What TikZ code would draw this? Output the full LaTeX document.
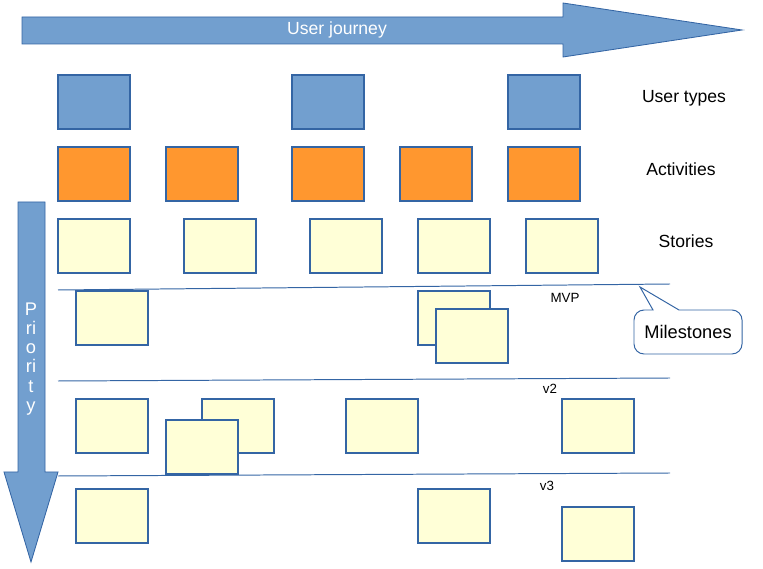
\documentclass[tikz,border=0pt]{standalone}
\usepackage{fontspec}
\setmainfont{Liberation Sans}
\usepackage{xcolor}
\usepackage{tikz}
\usetikzlibrary{positioning, arrows.meta}

\definecolor{bluefill}{HTML}{729FCF}
\definecolor{blueedge}{HTML}{3465A4}
\definecolor{orangefill}{HTML}{FF972F}
\definecolor{storyfill}{HTML}{FFFFD7}

\begin{document}
\begin{tikzpicture}[
    x=0.025cm, y=-0.025cm,
    card/.style={draw=blueedge, line width=0.8pt, inner sep=0pt,
        minimum width=1.8cm, minimum height=1.35cm},
    usertype/.style={card, fill=bluefill},
    activity/.style={card, fill=orangefill},
    story/.style={card, fill=storyfill},
    bigarrow/.style={fill=bluefill, draw=blueedge, line width=0.6pt},
    milestone/.style={blueedge, line width=0.7pt},
    rowlabel/.style={font=\fontsize{12.5}{14}\selectfont},
    mslabel/.style={font=\fontsize{9.5}{11}\selectfont},
    callout/.style={draw=blueedge, fill=white, line width=0.7pt}
]
\useasboundingbox (0,0) rectangle (763,569);

% ---------- user journey arrow ----------
\draw[bigarrow] (22,17) -- (563,17) -- (563,3) -- (742,30) -- (563,57)
    -- (563,44) -- (22,44) -- cycle;
\node[white, font=\fontsize{12.5}{14}\selectfont] (journey) at (337,30) {User journey};

% ---------- priority arrow ----------
\draw[bigarrow] (18,202) -- (45,202) -- (45,472) -- (58,472) -- (31,562)
    -- (4,472) -- (18,472) -- cycle;
\node[white, align=center, font=\fontsize{13}{13.6}\selectfont] (priority) at (31,359)
    {P\\ri\\o\\ri\\t\\y};

% ---------- backbone ----------
\foreach \x [count=\i] in {94,328,544}{
    \node[usertype] (u\i) at (\x,102) {};
}
\foreach \x [count=\i] in {94,202,328,436,544}{
    \node[activity] (a\i) at (\x,174) {};
}
\foreach \x [count=\i] in {94,220,346,454,562}{
    \node[story] (s\i) at (\x,246) {};
}
\node[rowlabel] (lusers) at (684,98) {User types};
\node[rowlabel] (lacts) at (681,169) {Activities};
\node[rowlabel] (lstories) at (686,241) {Stories};

% ---------- milestone lines ----------
\draw[milestone] (58,290) -- (670,284);
\draw[milestone] (58,381) -- (670,378);
\draw[milestone] (58,476) -- (670,473);
\node[mslabel] (lmvp) at (565,298) {MVP};
\node[mslabel] (lv2) at (550,389) {v2};
\node[mslabel] (lv3) at (547,486) {v3};

% ---------- MVP ----------
\node[story] (m1) at (112,318) {};
\node[story] (m2) at (454,318) {};
\node[story] (m3) at (472,336) {};

% ---------- v2 ----------
\node[story] (p1) at (112,426) {};
\node[story] (p2) at (238,426) {};
\node[story] (p3) at (202,447) {};
\node[story] (p4) at (382,426) {};
\node[story] (p5) at (598,426) {};

% ---------- v3 ----------
\node[story] (q1) at (112,516) {};
\node[story] (q2) at (454,516) {};
\node[story] (q3) at (598,534) {};

% ---------- callout ----------
\draw[callout] (653,310) [sharp corners] -- (640,287) -- (679,310)
    [rounded corners=0.25cm] -- (742,310) -- (742,354) -- (634,354)
    -- (634,310) [sharp corners] -- cycle;
\node[font=\fontsize{13}{15}\selectfont] (callouttext) at (688,332) {Milestones};

\end{tikzpicture}
\end{document}
